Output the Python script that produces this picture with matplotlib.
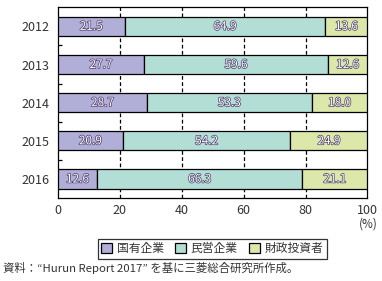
import matplotlib
matplotlib.use("Agg")
import matplotlib.pyplot as plt
import matplotlib.patheffects as pe
from matplotlib.patches import Patch

plt.rcParams['font.family'] = ['Noto Sans CJK JP', 'DejaVu Sans']

# ---- data ----
years = ["2012", "2013", "2014", "2015", "2016"]
state_owned = [21.5, 27.7, 28.7, 20.9, 12.6]
private = [64.9, 59.6, 53.3, 54.2, 66.3]
fiscal = [13.6, 12.6, 18.0, 24.9, 21.1]
series_names = ["国有企業", "民営企業", "財政投資者"]
colors = ["#b1aed8", "#b3ded5", "#dce8a9"]

fig = plt.figure(figsize=(3.82, 2.81), dpi=100)
ax = fig.add_axes([0.152, 0.295, 0.81, 0.679])

ypos = list(range(len(years)))
left = [0] * len(years)
for vals, col in zip([state_owned, private, fiscal], colors):
    bars = ax.barh(ypos, vals, left=left, height=0.5, color=col,
                   edgecolor="black", linewidth=0.9, zorder=3)
    for b, v in zip(bars, vals):
        ax.text(b.get_x() + b.get_width() / 2, b.get_y() + b.get_height() / 2,
                f"{v:.1f}", ha="center", va="center", fontsize=8.5,
                color="white", zorder=4,
                path_effects=[pe.withStroke(linewidth=1.0, foreground="#4a3a6a")])
    left = [l + v for l, v in zip(left, vals)]

ax.set_xlim(0, 100)
ax.set_ylim(4.5, -0.5)
ax.set_yticks(ypos)
ax.set_yticklabels(years)
ax.set_yticks([0.5, 1.5, 2.5, 3.5], minor=True)
ax.tick_params(axis="y", which="major", length=0, pad=6, labelsize=9, labelcolor="#333333")
ax.tick_params(axis="y", which="minor", direction="in", length=3, width=0.9)
ax.set_xticks([0, 20, 40, 60, 80, 100])
ax.tick_params(axis="x", length=0, pad=4, labelsize=9, labelcolor="#333333")
for x in [20, 40, 60, 80]:
    ax.axvline(x, color="black", linestyle=(0, (3, 2)), linewidth=0.9, zorder=1)
for s in ax.spines.values():
    s.set_linewidth(0.9)

fig.text(0.99, 1 - 224 / 281, "(%)", ha="right", va="center", fontsize=8.5, color="#333333")

handles = [Patch(facecolor=c, edgecolor="black", linewidth=0.9) for c in colors]
leg = fig.legend(handles, series_names, loc="center", bbox_to_anchor=(0.556, 0.114),
                 ncol=3, fontsize=8.5, frameon=True, fancybox=False,
                 handlelength=0.9, handleheight=0.9, handletextpad=0.4,
                 columnspacing=1.0, borderpad=0.3)
leg.get_frame().set_edgecolor("black")
leg.get_frame().set_linewidth(0.9)
for t in leg.get_texts():
    t.set_color("#333333")

fig.text(0.008, 1 - 268 / 281, "資料：“Hurun Report 2017” を基に三菱総合研究所作成。",
         ha="left", va="center", fontsize=8.2, color="#333333")

fig.savefig("out.png", dpi=100)
